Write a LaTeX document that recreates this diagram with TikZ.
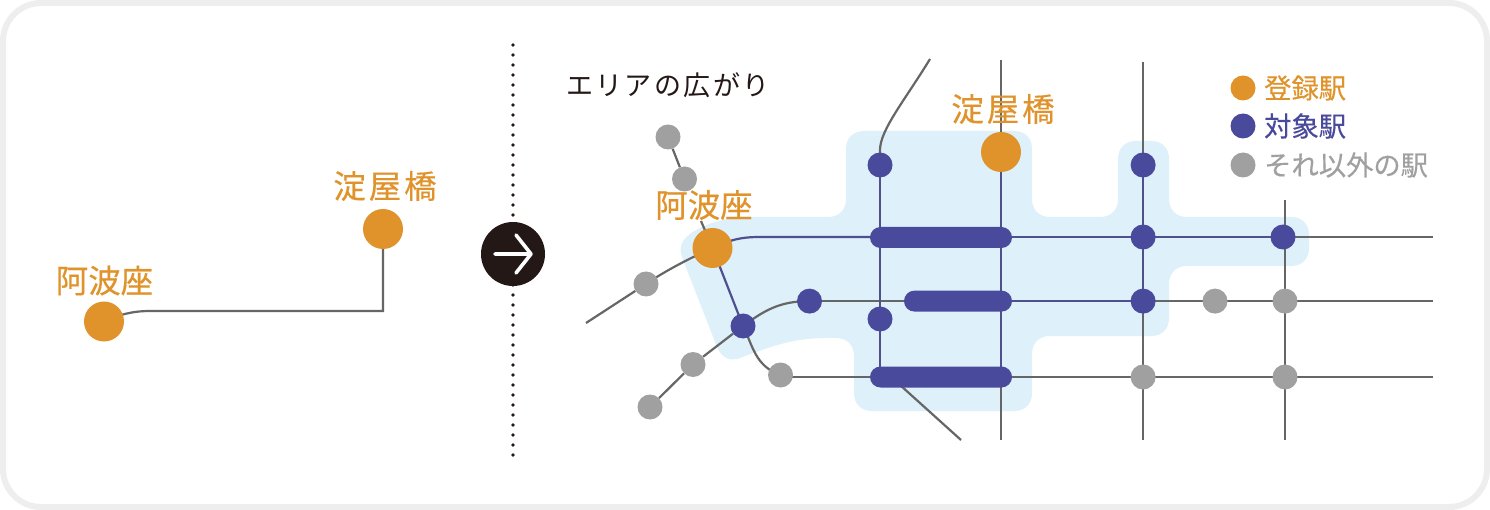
\documentclass[tikz,border=0pt]{standalone}
\usepackage{fontspec}
\newfontfamily\cjk{Noto Sans CJK JP}
\newfontfamily\cjkm[FakeBold=0.35]{Noto Sans CJK JP}
\usetikzlibrary{backgrounds}
\definecolor{stOrange}{HTML}{E0932B}
\definecolor{stBlue}{HTML}{4A4A9C}
\definecolor{stGray}{HTML}{A0A0A0}
\definecolor{lnGray}{HTML}{666666}
\definecolor{lnBlue}{HTML}{50508F}
\definecolor{areaBlue}{HTML}{DEF0FA}
\definecolor{frameGray}{HTML}{EEEEEE}
\definecolor{inkDark}{HTML}{231815}
\pgfdeclarelayer{lines}
\pgfsetlayers{background,lines,main}
\tikzset{
  x=1pt,y=-1pt,
  big/.style={circle,fill=stOrange,inner sep=0pt,minimum size=40pt},
  midst/.style={circle,fill=stBlue,inner sep=0pt,minimum size=25pt},
  grayst/.style={circle,fill=stGray,inner sep=0pt,minimum size=25pt},
  barst/.style={rounded corners=10.5pt,fill=stBlue,inner sep=0pt,minimum height=21pt},
  glay/.style={draw=lnGray,line width=2.2pt},
  blay/.style={draw=lnBlue,line width=2.2pt},
  lbl/.style={inner sep=0pt,font=\cjkm\fontsize{32.4}{32}\selectfont,text=stOrange},
  leg/.style={inner sep=0pt,anchor=west,font=\cjkm\fontsize{27.3}{27}\selectfont},
}
\begin{document}
\begin{tikzpicture}
\useasboundingbox (0,0) rectangle (1490,510);
\begin{pgfonlayer}{background}
\draw[frameGray,line width=6pt,fill=white,rounded corners=38pt] (3,3) rectangle (1487,507);
\fill[areaBlue] (865,131) -- (1014,131) .. controls (1025,131) and (1032,138) .. (1032,149)
 -- (1032,199) .. controls (1032,210) and (1039,217) .. (1050,217)
 -- (1100,217) .. controls (1111,217) and (1118,210) .. (1118,199)
 -- (1118,159) .. controls (1118,148) and (1125,141) .. (1136,141)
 -- (1151,141) .. controls (1162,141) and (1169,148) .. (1169,159)
 -- (1169,199) .. controls (1169,210) and (1176,217) .. (1187,217)
 -- (1291,217) .. controls (1302,217) and (1309,224) .. (1309,235)
 -- (1309,248) .. controls (1309,259) and (1302,266) .. (1291,266)
 -- (1187,266) .. controls (1176,266) and (1169,273) .. (1169,284)
 -- (1169,318) .. controls (1169,329) and (1162,336) .. (1151,336)
 -- (1050,336) .. controls (1039,336) and (1032,343) .. (1032,354)
 -- (1032,393) .. controls (1032,404) and (1025,411) .. (1014,411)
 -- (872,411) .. controls (861,411) and (854,404) .. (854,393)
 -- (854,356) .. controls (854,345) and (847,338) .. (836,338)
 .. controls (795,337) and (775,345) .. (737,359)
 .. controls (730,361) and (722,358) .. (717,347)
 -- (682,257) .. controls (678,246) and (682,237) .. (700,228)
 .. controls (715,221) and (730,217) .. (750,217)
 -- (828,217) .. controls (839,217) and (846,210) .. (846,199)
 -- (846,149) .. controls (846,138) and (853,131) .. (865,131) -- cycle;
\end{pgfonlayer}

% left panel
\node[big] (yodoL) at (383,229) {};
\node[big] (awaL) at (104,321.5) {};
\node[lbl] (yodoLt) at (385,186) {淀\kern3pt屋\kern3pt橋};
\node[lbl] (awaLt) at (104.5,280.5) {阿波座};

% divider
\coordinate (divT) at (513,45);
\coordinate (divB) at (513,457);
\node[circle,fill=inkDark,inner sep=0pt,minimum size=64pt] (go) at (513,254) {};
\coordinate (arL) at (495,254);
\coordinate (arR) at (531,254);
\coordinate (arU) at (516,235);
\coordinate (arD) at (516,273);
\draw[white,line width=3.6pt,line cap=round,line join=round] (arL) -- (arR) (arU) -- (arR) -- (arD);

% right panel stations
\node[grayst] (g1) at (668,137) {};
\node[grayst] (g2) at (684.5,179) {};
\node[grayst] (g3) at (646,284) {};
\node[grayst] (g4) at (693,364.5) {};
\node[grayst] (g5) at (650,407) {};
\node[grayst] (g6) at (780.5,375) {};
\node[grayst] (g7) at (1215,301.1) {};
\node[grayst] (g8) at (1285,301.1) {};
\node[grayst] (g9) at (1143.1,377) {};
\node[grayst] (g10) at (1285,377) {};
\node[midst] (b1) at (880,165) {};
\node[midst] (b2) at (743,326) {};
\node[midst] (b3) at (809.5,301.1) {};
\node[midst] (b4) at (880,319) {};
\node[midst] (b5) at (1143.1,165) {};
\node[midst] (b6) at (1143.1,237) {};
\node[midst] (b7) at (1283,237) {};
\node[midst] (b8) at (1143.1,301.1) {};
\node[barst,minimum width=142pt] (bar1) at (941,237.5) {};
\node[barst,minimum width=108pt] (bar2) at (958,301.1) {};
\node[barst,minimum width=142pt] (bar3) at (941,377) {};
\node[big] (awaR) at (712.5,248) {};
\node[big] (yodoR) at (1001,152) {};
\node[lbl] (awaRt) at (704,205) {阿波座};
\node[lbl] (yodoRt) at (1003,109) {淀\kern3pt屋\kern3pt橋};
\node[inner sep=0pt,anchor=west,text=inkDark,font=\cjk\fontsize{27}{27}\selectfont] (area) at (566,85) {エ\kern2.4ptリ\kern2.4ptア\kern2.4ptの\kern2.4pt広\kern2.4ptが\kern2.4ptり};

% legend
\node[circle,fill=stOrange,inner sep=0pt,minimum size=25pt] (lg1) at (1243,88) {};
\node[midst] (lg2) at (1243,126) {};
\node[grayst] (lg3) at (1243,165) {};
\node[leg,text=stOrange] (lt1) at (1264,88) {登録駅};
\node[leg,text=stBlue] (lt2) at (1264,126) {対象駅};
\node[leg,text=stGray] (lt3) at (1264,165) {それ以外の駅};

% free ends
\coordinate (a1) at (930,59);
\coordinate (a2) at (586,323);
\coordinate (a3) at (961,440);
\coordinate (a4) at (900,385);
\coordinate (t1) at (1001,60);
\coordinate (t2) at (1001,440);
\coordinate (t3) at (1143.1,62);
\coordinate (t4) at (1143.1,440);
\coordinate (t5) at (1285,200);
\coordinate (t6) at (1285,440);
\coordinate (e1) at (1433,237);
\coordinate (e2) at (1433,301.1);
\coordinate (e3) at (1433,377);
\coordinate (gapT) at (701,221);
\coordinate (bend1) at (760,237);
\coordinate (bar1in) at (875,237);
\coordinate (g6out) at (790,377);
\coordinate (bar3in) at (880,377);
\coordinate (bar3out) at (1005,377);

\begin{pgfonlayer}{lines}
\draw[glay] (awaL.center) .. controls (118,315) and (132,311) .. (150,311) -- (383,311) -- (yodoL.center);
\draw[inkDark,line width=3.9pt,line cap=round,dash pattern=on 0pt off 10pt] (divT) -- (divB);

\draw[glay] (g1) -- (g2);
\draw[glay] (gapT) -- (awaR.center);
\draw[glay] (a2) -- (g3);
\draw[glay] (g3.center) .. controls (665,271) and (690,258) .. (awaR.center);
\draw[blay] (awaR.center) -- (b2.center);
\draw[blay] (awaR.center) .. controls (730,240) and (740,237) .. (bend1) -- (bar1in);
\draw[blay] (bar1in) -- (b7.center);
\draw[glay] (b7.center) -- (e1);
\draw[glay] (g5) -- (g4);
\draw[glay] (g4) -- (b2);
\draw[glay] (b2.center) .. controls (765,310) and (780,301.1) .. (b3.center);
\draw[glay] (b3.center) -- (bar2.center);
\draw[blay] (bar2.center) -- (b8.center);
\draw[glay] (b8.center) -- (e2);
\draw[glay] (b2.center) .. controls (753,346) and (755,366) .. (g6.center);
\draw[glay] (g6out) -- (bar3in);
\draw[glay] (bar3out) -- (e3);
\draw[glay] (a4) -- (a3);
\draw[glay] (a1) .. controls (905,100) and (880,130) .. (880,150) -- (b1.center);
\draw[blay] (b1.center) -- (b4.center) -- (bar3in);
\draw[glay] (t1) -- (yodoR.center);
\draw[blay] (yodoR.center) -- (bar3out -| yodoR);
\draw[glay] (bar3out -| yodoR) -- (t2);
\draw[glay] (t3) -- (b5.center);
\draw[blay] (b5.center) -- (b8.center);
\draw[glay] (b8.center) -- (t4);
\draw[glay] (t5) -- (t6);
\end{pgfonlayer}
\end{tikzpicture}
\end{document}
